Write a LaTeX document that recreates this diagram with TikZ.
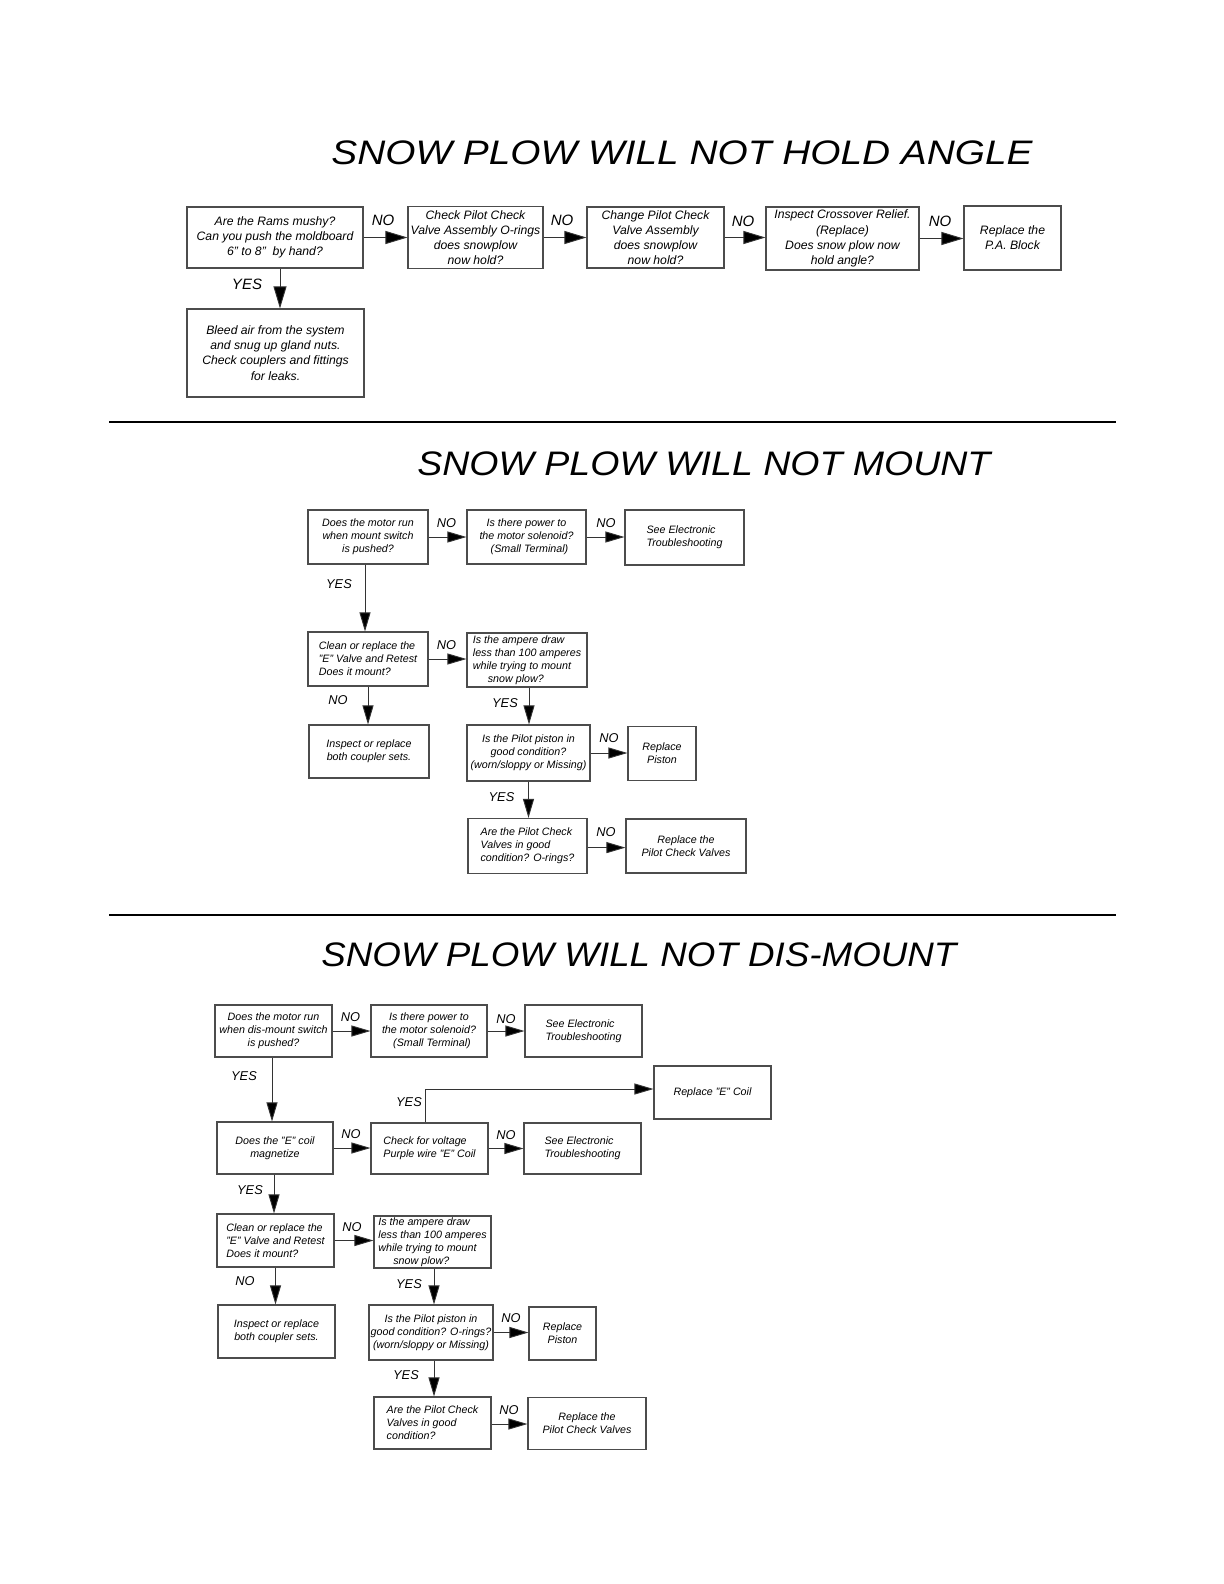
\documentclass[tikz,border=0pt]{standalone}
\usepackage{fontspec}
\setmainfont{Liberation Sans}
\usepackage{graphicx}
\usetikzlibrary{arrows.meta}
\newcommand\myfontA{\itshape\fontsize{6.1pt}{7.6pt}\selectfont}
\newcommand\myfontB{\itshape\fontsize{5.35pt}{6.5pt}\selectfont}
\newcommand\mylblA{\itshape\fontsize{7.5pt}{9pt}\selectfont}
\newcommand\mylblB{\itshape\fontsize{6.4pt}{7.5pt}\selectfont}
\newcommand\myttl{\itshape\fontsize{17pt}{20pt}\selectfont}
\tikzset{
  bx/.style={draw=black!70, line width=0.55pt, inner sep=0pt},
  bxA/.style={bx, font=\myfontA},
  bxB/.style={bx, font=\myfontB},
  lblA/.style={font=\mylblA, inner sep=0pt},
  lblB/.style={font=\mylblB, inner sep=0pt},
  ttl/.style={font=\myttl, inner sep=0pt, anchor=base west},
  arrA/.style={-{Triangle[length=11pt,width=6.5pt,fill=black]}, line width=0.45pt, draw=black!80},
  arrB/.style={-{Triangle[length=9.5pt,width=5.5pt,fill=black]}, line width=0.45pt, draw=black!80},
  sep/.style={line width=1pt}
}
\begin{document}
\begin{tikzpicture}[x=0.5pt,y=-0.5pt]
\fill[white] (0,0) rectangle (1224,1584);
\useasboundingbox (0,0) rectangle (1224,1584);

% ---------- Titles ----------
\node[ttl] (t1) at (331,164) {\scalebox{1.142}[1]{SNOW PLOW WILL NOT HOLD ANGLE}};
\node[ttl] (t2) at (417,475) {\scalebox{1.103}[1]{SNOW PLOW WILL NOT MOUNT}};
\node[ttl] (t3) at (321,966) {\scalebox{1.081}[1]{SNOW PLOW WILL NOT DIS-MOUNT}};

% ---------- Separators ----------
\draw[sep] (109,421.5) -- (1116,421.5);
\draw[sep] (109,915) -- (1116,915);

% ---------- Section 1 ----------
\node[bxA, align=center, minimum width=88pt, minimum height=30.5pt] (s1a) at (275,237.5)
  {Are the Rams mushy?\\Can you push the moldboard\\6" to 8"\ \ by hand?};
\node[bxA, align=center, minimum width=88.5pt, minimum height=44pt] (s1b) at (275.5,353)
  {Bleed air from the system\\and snug up gland nuts.\\Check couplers and fittings\\for leaks.};
\node[bxA, align=center, minimum width=67.5pt, minimum height=31pt] (s1c) at (475.5,237.5)
  {Check Pilot Check\\Valve Assembly O-rings\\does snowplow\\now hold?};
\node[bxA, align=center, minimum width=68.5pt, minimum height=30.5pt] (s1d) at (655.5,237.5)
  {Change Pilot Check\\Valve Assembly\\does snowplow\\now hold?};
\node[bxA, align=center, minimum width=76.5pt, minimum height=31.5pt] (s1e) at (842.5,238.5)
  {Inspect Crossover Relief.\\(Replace)\\Does snow plow now\\hold angle?};
\node[bxA, align=center, minimum width=48.5pt, minimum height=32pt] (s1f) at (1012.5,238)
  {Replace the\\P.A. Block};

\draw[arrA] (s1a.east) -- (s1a.east -| s1c.west);
\draw[arrA] (s1c.east) -- (s1c.east -| s1d.west);
\draw[arrA] (s1d.east) -- (s1d.east -| s1e.west);
\draw[arrA] (s1e.east) -- (s1e.east -| s1f.west);
\draw[arrA] ([xshift=2.5pt]s1a.south) -- ([xshift=2.5pt]s1a.south |- s1b.north);

\node[lblA] (n1) at (383,220) {NO};
\node[lblA] (n2) at (562,220) {NO};
\node[lblA] (n3) at (743,221) {NO};
\node[lblA] (n4) at (940,221) {NO};
\node[lblA] (y1) at (247,284) {YES};

% ---------- Section 2 ----------
\node[bxB, align=center, minimum width=60pt, minimum height=27pt] (s2a) at (368,537)
  {Does the motor run\\when mount switch\\is pushed?};
\node[bxB, align=center, minimum width=59.5pt, minimum height=27pt] (s2b) at (526.5,537)
  {Is there power to\\the motor solenoid?\\\ \ (Small Terminal)};
\node[bxB, align=left, minimum width=59.5pt, minimum height=27.5pt] (s2c) at (684.5,537.5)
  {See Electronic\\Troubleshooting};
\node[bxB, align=left, minimum width=60pt, minimum height=27pt] (s2d) at (368,659)
  {Clean or replace the\\"E" Valve and Retest\\Does it mount?};
\node[bxB, align=left, minimum width=60pt, minimum height=27pt] (s2e) at (527,660)
  {Is the ampere draw\\less than 100 amperes\\while trying to mount\\\hspace*{7.5pt}snow plow?};
\node[bxB, align=center, minimum width=60pt, minimum height=26.5pt] (s2f) at (369,751.5)
  {Inspect or replace\\both coupler sets.};
\node[bxB, align=center, minimum width=61.5pt, minimum height=28pt] (s2g) at (528.5,753)
  {Is the Pilot piston in\\good condition?\\(worn/sloppy or Missing)};
\node[bxB, align=center, minimum width=34pt, minimum height=27pt] (s2h) at (662,753.5)
  {Replace\\Piston};
\node[bxB, align=left, minimum width=59.5pt, minimum height=27.5pt] (s2i) at (527.5,846)
  {Are the Pilot Check\\Valves in good\\condition? O-rings?};
\node[bxB, align=center, minimum width=60pt, minimum height=27pt] (s2j) at (686,846)
  {Replace the\\Pilot Check Valves};

\draw[arrB] (s2a.east) -- (s2a.east -| s2b.west);
\draw[arrB] (s2b.east) -- (s2b.east -| s2c.west);
\draw[arrB] ([xshift=-1.5pt]s2a.south) -- ([xshift=-1.5pt]s2a.south |- s2d.north);
\draw[arrB] (s2d.east) -- (s2d.east -| s2e.west);
\draw[arrB] (s2d.south) -- (s2d.south |- s2f.north);
\draw[arrB] ([xshift=1pt]s2e.south) -- ([xshift=1pt]s2e.south |- s2g.north);
\draw[arrB] (s2g.east) -- (s2g.east -| s2h.west);
\draw[arrB] (s2g.south) -- (s2g.south |- s2i.north);
\draw[arrB] ([yshift=-0.8pt]s2i.east) -- ([yshift=-0.8pt]s2i.east -| s2j.west);

\node[lblB] (m1) at (446.5,523) {NO};
\node[lblB] (m2) at (606,523) {NO};
\node[lblB] (m3) at (339,584) {YES};
\node[lblB] (m4) at (446.5,645.5) {NO};
\node[lblB] (m5) at (338,700.5) {NO};
\node[lblB] (m6) at (505,703) {YES};
\node[lblB] (m7) at (609,738) {NO};
\node[lblB] (m8) at (501.5,797) {YES};
\node[lblB] (m9) at (606,832.5) {NO};

% ---------- Section 3 ----------
\node[bxB, align=center, minimum width=58.5pt, minimum height=26pt] (s3a) at (273.5,1031)
  {Does the motor run\\when dis-mount switch\\is pushed?};
\node[bxB, align=center, minimum width=58pt, minimum height=26pt] (s3b) at (429,1031)
  {Is there power to\\the motor solenoid?\\\ \ (Small Terminal)};
\node[bxB, align=left, minimum width=58.5pt, minimum height=26pt] (s3c) at (583.5,1031)
  {See Electronic\\Troubleshooting};
\node[bxB, align=center, minimum width=58.5pt, minimum height=26.5pt] (s3r) at (712.5,1092.5)
  {Replace "E" Coil};
\node[bxB, align=center, minimum width=58pt, minimum height=26pt] (s3d) at (275,1148)
  {Does the "E" coil\\magnetize};
\node[bxB, align=left, minimum width=58.5pt, minimum height=25.5pt] (s3e) at (429.5,1148.5)
  {Check for voltage\\Purple wire "E" Coil};
\node[bxB, align=left, minimum width=58.5pt, minimum height=25.5pt] (s3f) at (582.5,1148.5)
  {See Electronic\\Troubleshooting};
\node[bxB, align=left, minimum width=58.5pt, minimum height=26.5pt] (s3g) at (275.5,1240.5)
  {Clean or replace the\\"E" Valve and Retest\\Does it mount?};
\node[bxB, align=left, minimum width=58.5pt, minimum height=26pt] (s3h) at (432.5,1242)
  {Is the ampere draw\\less than 100 amperes\\while trying to mount\\\hspace*{7.5pt}snow plow?};
\node[bxB, align=center, minimum width=58.5pt, minimum height=26.5pt] (s3i) at (276.5,1331.5)
  {Inspect or replace\\both coupler sets.};
\node[bxB, align=center, minimum width=62pt, minimum height=27.5pt] (s3j) at (431,1332.5)
  {Is the Pilot piston in\\good condition? O-rings?\\(worn/sloppy or Missing)};
\node[bxB, align=center, minimum width=33.5pt, minimum height=26.5pt] (s3k) at (562.5,1333.5)
  {Replace\\Piston};
\node[bxB, align=left, minimum width=58.5pt, minimum height=26pt] (s3l) at (432.5,1423)
  {Are the Pilot Check\\Valves in good\\condition?};
\node[bxB, align=center, minimum width=59pt, minimum height=26pt] (s3m) at (587,1423.5)
  {Replace the\\Pilot Check Valves};

\draw[arrB] (s3a.east) -- (s3a.east -| s3b.west);
\draw[arrB] (s3b.east) -- (s3b.east -| s3c.west);
\draw[arrB] ([xshift=-0.75pt]s3a.south) -- ([xshift=-0.75pt]s3a.south |- s3d.north);
\draw[arrB] (s3d.east) -- (s3d.east -| s3e.west);
\draw[arrB] (s3e.east) -- (s3e.east -| s3f.west);
\draw[arrB] ([xshift=-2.25pt]s3e.north) |- ([yshift=1.75pt]s3r.west);
\draw[arrB] ([xshift=-0.5pt]s3d.south) -- ([xshift=-0.5pt]s3d.south |- s3g.north);
\draw[arrB] (s3g.east) -- (s3g.east -| s3h.west);
\draw[arrB] (s3g.south) -- (s3g.south |- s3i.north);
\draw[arrB] ([xshift=0.75pt]s3h.south) -- ([xshift=0.75pt]s3h.south |- s3j.north);
\draw[arrB] (s3j.east) -- (s3j.east -| s3k.west);
\draw[arrB] ([xshift=1.5pt]s3j.south) -- ([xshift=1.5pt]s3j.south |- s3l.north);
\draw[arrB] ([yshift=-0.5pt]s3l.east) -- ([yshift=-0.5pt]s3l.east -| s3m.west);

\node[lblB] (k1) at (350.5,1017.5) {NO};
\node[lblB] (k2) at (506,1019) {NO};
\node[lblB] (k3) at (244,1076) {YES};
\node[lblB] (k4) at (409,1102) {YES};
\node[lblB] (k5) at (351,1134) {NO};
\node[lblB] (k6) at (506,1135) {NO};
\node[lblB] (k7) at (250,1190) {YES};
\node[lblB] (k8) at (352,1227) {NO};
\node[lblB] (k9) at (245,1281) {NO};
\node[lblB] (k10) at (409,1284) {YES};
\node[lblB] (k11) at (511,1318) {NO};
\node[lblB] (k12) at (406,1375) {YES};
\node[lblB] (k13) at (509,1410) {NO};
\end{tikzpicture}
\end{document}
